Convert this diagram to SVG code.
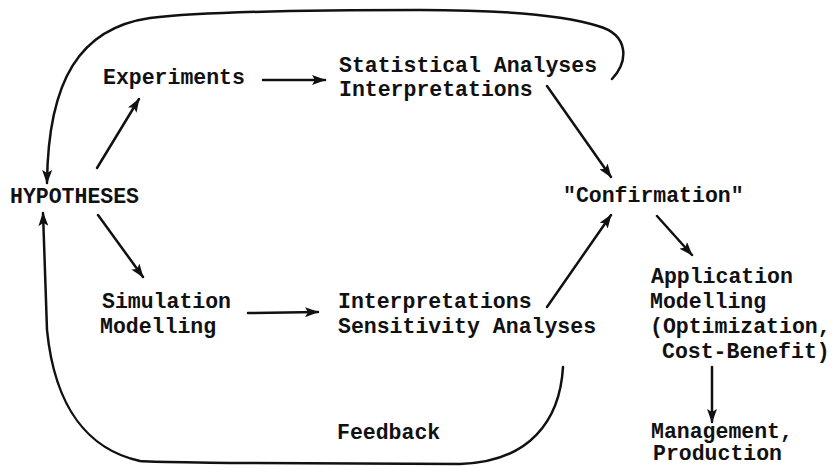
<svg xmlns="http://www.w3.org/2000/svg" width="835" height="466" viewBox="0 0 835 466">
<style>
text{font-family:"Liberation Mono","Courier New",monospace;font-size:21.5px;font-weight:bold;fill:#111}
.c{fill:none;stroke:#111;stroke-width:2.5;stroke-linecap:round}
</style>
<defs>
<marker id="ah" viewBox="0 0 14 10" refX="13" refY="5" markerWidth="14" markerHeight="10" markerUnits="userSpaceOnUse" orient="auto">
<path d="M0,0 L14,5 L0,10 L3,5 Z" fill="#111"/>
</marker>
</defs>
<rect width="835" height="466" fill="#fff"/>
<g id="connectors">
<path class="c" d="M263 80 L325 80" marker-end="url(#ah)"/>
<path class="c" d="M97 168 L139 99" marker-end="url(#ah)"/>
<path class="c" d="M98 215 L143 277" marker-end="url(#ah)"/>
<path class="c" d="M248 313 L318 312" marker-end="url(#ah)"/>
<path class="c" d="M547 86 L611 177" marker-end="url(#ah)"/>
<path class="c" d="M547 307 L611 215" marker-end="url(#ah)"/>
<path class="c" d="M657 216 L692 255" marker-end="url(#ah)"/>
<path class="c" d="M712 367 L712 422" marker-end="url(#ah)"/>
<path class="c" d="M612 79 C628 62 630 35 598 26 C560 14 500 10 420 10 C300 10 200 12 150 18 C80 28 48 80 47 183" marker-end="url(#ah)"/>
<path class="c" d="M563 367 C560 420 530 462 460 464 L230 463 C180 462 150 462 140 461 C90 450 55 410 47 330 L43 213" marker-end="url(#ah)"/>
</g>
<g id="hypotheses"><text x="10" y="203">HYPOTHESES</text></g>
<g id="experiments"><text x="103" y="84">Experiments</text></g>
<g id="statistical"><text x="339" y="72">Statistical Analyses</text><text x="339" y="96">Interpretations</text></g>
<g id="confirmation"><text x="563" y="202">"Confirmation"</text></g>
<g id="simulation"><text x="102" y="308">Simulation</text><text x="100" y="333">Modelling</text></g>
<g id="sensitivity"><text x="338" y="308">Interpretations</text><text x="338" y="333">Sensitivity Analyses</text></g>
<g id="feedback"><text x="337" y="439">Feedback</text></g>
<g id="application"><text x="651" y="283">Application</text><text x="650" y="308">Modelling</text><text x="650" y="333">(Optimization,</text><text x="662" y="358">Cost-Benefit)</text></g>
<g id="management"><text x="651" y="438">Management,</text><text x="653" y="460">Production</text></g>
</svg>
